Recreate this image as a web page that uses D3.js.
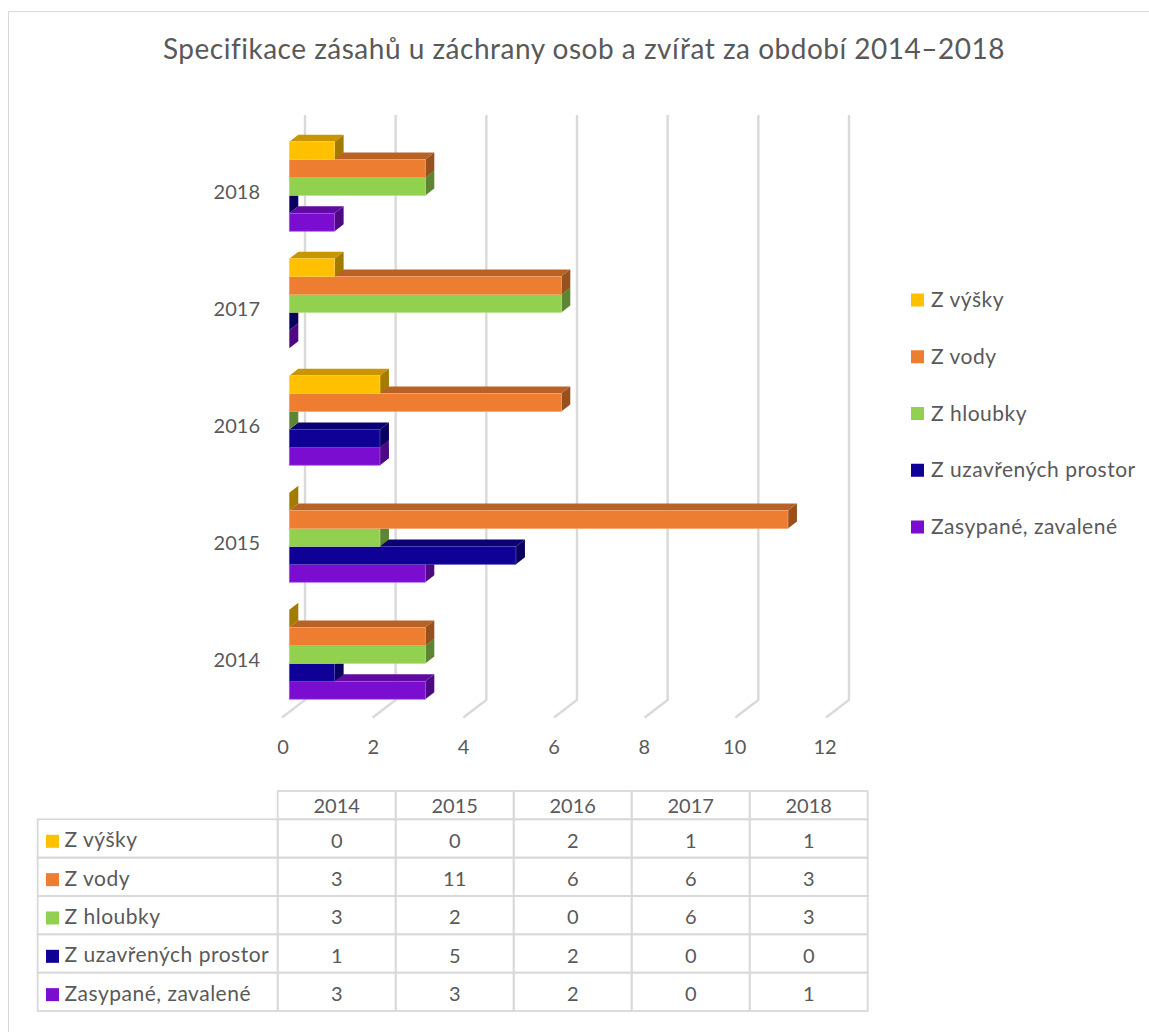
<!DOCTYPE html>
<html>
<head>
<meta charset="utf-8">
<script src="https://cdn.jsdelivr.net/npm/d3@7"></script>
<style>
  html, body { margin: 0; padding: 0; background: #ffffff; }
  svg text { font-family: Lato, "Open Sans", sans-serif; fill: #595959; }
  .wordy { font-size: 21px; letter-spacing: 0.5px; }
</style>
</head>
<body>
<script>
// ---- data ----
const years = ['2014', '2015', '2016', '2017', '2018'];
const seriesNames = ['Z výšky', 'Z vody', 'Z hloubky', 'Z uzavřených prostor', 'Zasypané, zavalené'];
const vyskyValues = [0, 0, 2, 1, 1];
const vodyValues = [3, 11, 6, 6, 3];
const hloubkyValues = [3, 2, 0, 6, 3];
const uzavreneValues = [1, 5, 2, 0, 0];
const zasypaneValues = [3, 3, 2, 0, 1];
const seriesColors = ['#FFC000', '#ED7D31', '#92D050', '#0F0096', '#7A0DCF'];
const valueTicks = [0, 2, 4, 6, 8, 10, 12];
const titleText = 'Specifikace zásahů u záchrany osob a zvířat za období 2014–2018';

const seriesValues = [vyskyValues, vodyValues, hloubkyValues, uzavreneValues, zasypaneValues];
const series = seriesNames.map((name, i) => ({ name, color: seriesColors[i], values: seriesValues[i] }));

const W = 1149, H = 1032;
const svg = d3.select('body').append('svg').attr('width', W).attr('height', H);

// outer frame of the chart area
svg.append('rect')
  .attr('x', 8.5).attr('y', 11.5).attr('width', W + 20).attr('height', H + 20)
  .attr('fill', 'none').attr('stroke', '#D9D9D9').attr('stroke-width', 1);

// title
svg.append('text')
  .attr('x', 584).attr('y', 59)
  .attr('text-anchor', 'middle')
  .style('font-size', '28px')
  .style('letter-spacing', '0.5px')
  .text(titleText);

// ---- scales ----
// x of the bars' front faces
const x = d3.scaleLinear().domain([0, 12]).range([289.3, 833.3]);
// oblique depth of a bar
const DX = 9, DY = -7;
// back wall sits a bit deeper, floor front edge a bit nearer
const WALL_DX = 15.7, FLOOR_DX = -7.3;
const WALL_TOP = 115, WALL_BOTTOM = 700, FLOOR_FRONT = 717.5;

const y = d3.scaleBand()
  .domain(years.slice().reverse())
  .range([141.7, 699.2])
  .paddingInner(0.235)
  .paddingOuter(0);

const ySeries = d3.scaleBand()
  .domain(seriesNames)
  .range([0, y.bandwidth()]);

// ---- grid: back wall + floor ----
const grid = svg.append('g').attr('class', 'grid');
grid.selectAll('path')
  .data(valueTicks)
  .join('path')
  .attr('d', v => {
    const p = d3.path();
    p.moveTo(x(v) + WALL_DX, WALL_TOP);
    p.lineTo(x(v) + WALL_DX, WALL_BOTTOM);
    p.lineTo(x(v) + FLOOR_DX, FLOOR_FRONT);
    return p.toString();
  })
  .attr('fill', 'none')
  .attr('stroke', '#D9D9D9')
  .attr('stroke-width', 2.4);

// ---- value axis labels ----
const xLabels = d3.scaleLinear().domain([0, 12]).range([282.5, 824.5]);
const xAxis = svg.append('g')
  .attr('transform', 'translate(0,754)')
  .call(d3.axisBottom(xLabels).tickValues(valueTicks).tickSize(0).tickPadding(0));
xAxis.select('.domain').remove();
xAxis.selectAll('text')
  .attr('y', 0).attr('dy', 0)
  .attr('fill', '#595959')
  .style('font-size', '20px')
  .style('font-family', 'Lato, sans-serif');

// ---- category axis labels ----
const yAxis = svg.append('g')
  .attr('transform', 'translate(260,6.5)')
  .call(d3.axisLeft(y).tickSize(0).tickPadding(0));
yAxis.select('.domain').remove();
yAxis.selectAll('text')
  .attr('fill', '#595959')
  .style('font-size', '20px')
  .style('font-family', 'Lato, sans-serif');

// ---- 3D bars ----
function shade(c, k) {
  const r = d3.rgb(c);
  return d3.rgb(r.r * k, r.g * k, r.b * k).formatHex();
}
const pts = a => a.map(p => p.join(',')).join(' ');

const bars = svg.append('g').attr('class', 'bars');
years.forEach((yr, yi) => {
  const g = bars.append('g');
  // lower series first so upper bars overlap their top faces
  for (let si = series.length - 1; si >= 0; si--) {
    const s = series[si];
    const v = s.values[yi];
    const x0 = x(0), x1 = x(v);
    const y0 = y(yr) + ySeries(s.name);
    const y1 = y0 + ySeries.bandwidth();
    const edge = d3.interpolateRgb(s.color, '#ffffff')(0.3);
    // top face
    if (v > 0) {
      g.append('polygon')
        .attr('points', pts([[x0, y0], [x1, y0], [x1 + DX, y0 + DY], [x0 + DX, y0 + DY]]))
        .attr('fill', shade(s.color, 0.78));
    }
    // end face
    g.append('polygon')
      .attr('points', pts([[x1, y0], [x1 + DX, y0 + DY], [x1 + DX, y1 + DY], [x1, y1]]))
      .attr('fill', shade(s.color, 0.64));
    // front face
    if (v > 0) {
      g.append('rect')
        .attr('x', x0).attr('y', y0)
        .attr('width', x1 - x0).attr('height', y1 - y0)
        .attr('fill', s.color)
        .attr('stroke', edge).attr('stroke-width', 0.7);
    }
  }
});

// ---- legend ----
const legend = svg.append('g').attr('class', 'legend');
const legendY = d3.scalePoint().domain(seriesNames).range([300, 527]);
const li = legend.selectAll('g').data(series).join('g')
  .attr('transform', d => `translate(911,${legendY(d.name)})`);
li.append('rect')
  .attr('x', 0).attr('y', -6.5).attr('width', 13).attr('height', 13)
  .attr('fill', d => d.color);
li.append('text')
  .attr('class', 'wordy')
  .attr('x', 20).attr('y', 7)
  .text(d => d.name);

// ---- data table ----
const table = svg.append('g').attr('class', 'table');
const colX = d3.scaleBand().domain(years).range([277.7, 867.7]);
const rowY = d3.scaleBand().domain(seriesNames).range([819.3, 1011]);
const HEAD_TOP = 791;
const LABEL_LEFT = 37.7;
const gridStyle = sel => sel.attr('fill', 'none').attr('stroke', '#D9D9D9').attr('stroke-width', 1.8);

// header cells
table.selectAll('rect.head').data(years).join('rect')
  .attr('class', 'head')
  .attr('x', d => colX(d)).attr('y', HEAD_TOP)
  .attr('width', colX.bandwidth()).attr('height', rowY.range()[0] - HEAD_TOP)
  .call(gridStyle);
table.selectAll('text.head').data(years).join('text')
  .attr('class', 'head')
  .attr('x', d => colX(d) + colX.bandwidth() / 2).attr('y', 813)
  .attr('text-anchor', 'middle')
  .style('font-size', '20px')
  .text(d => d);

// body rows
const rows = table.selectAll('g.row').data(series).join('g')
  .attr('class', 'row')
  .attr('transform', d => `translate(0,${rowY(d.name)})`);
rows.append('rect')
  .attr('x', LABEL_LEFT).attr('y', 0)
  .attr('width', colX.range()[0] - LABEL_LEFT).attr('height', rowY.bandwidth())
  .call(gridStyle);
rows.selectAll('rect.cell').data(d => years.map(yr => yr)).join('rect')
  .attr('class', 'cell')
  .attr('x', d => colX(d)).attr('y', 0)
  .attr('width', colX.bandwidth()).attr('height', rowY.bandwidth())
  .call(gridStyle);
rows.append('rect')
  .attr('x', 46).attr('y', 15.5).attr('width', 13).attr('height', 13)
  .attr('fill', d => d.color);
rows.append('text')
  .attr('class', 'wordy')
  .attr('x', 64.5).attr('y', 28)
  .text(d => d.name);
rows.selectAll('text.val').data(d => d.values.map((v, i) => ({ v, yr: years[i] }))).join('text')
  .attr('class', 'val')
  .attr('x', d => colX(d.yr) + colX.bandwidth() / 2).attr('y', 28.4)
  .attr('text-anchor', 'middle')
  .style('font-size', '20px')
  .text(d => d.v);
</script>
</body>
</html>
